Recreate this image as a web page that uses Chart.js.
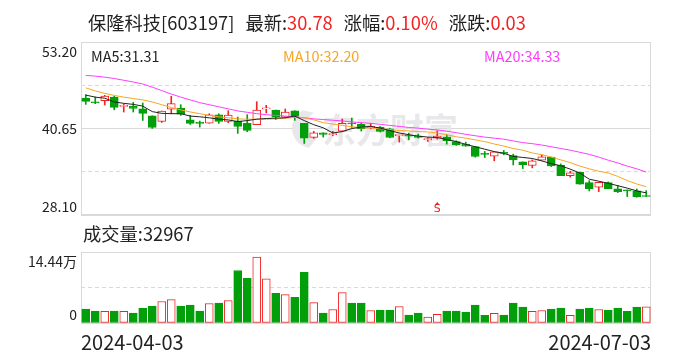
<!DOCTYPE html>
<html>
<head>
<meta charset="utf-8">
<script src="https://cdn.jsdelivr.net/npm/chart.js@4.4.1/dist/chart.umd.min.js"></script>
<style>
  body { margin: 0; background: #fff; width: 688px; height: 360px; overflow: hidden; position: relative;
         font-family: "Noto Sans CJK SC", "Noto Sans", sans-serif; color: #222; }
  canvas { position: absolute; left: 0; }
  #priceChart { top: 0; }
  #volChart { top: 230px; }
  .txt { position: absolute; white-space: pre; line-height: 20px; }
  .red { color: #f22323; }
  #title { left: 88px; top: 12px; font-size: 18.3px; }
  #title .gap { margin-left: 11px; }
  .ma { top: 46px; font-size: 14.4px; }
  #volTitle { left: 83px; top: 223px; font-size: 18.3px; }
</style>
</head>
<body>
<canvas id="priceChart" width="688" height="230"></canvas>
<canvas id="volChart" width="688" height="130"></canvas>
<div id="title" class="txt"></div>
<div id="ma5" class="txt ma" style="left:91px;color:#222"></div>
<div id="ma10" class="txt ma" style="left:283px;color:#f6a623"></div>
<div id="ma20" class="txt ma" style="left:484px;color:#ff3cff"></div>
<div id="volTitle" class="txt"></div>
<script>
const stockName = '保隆科技';
const stockCode = '603197';

// trading days 2024-04-03 .. 2024-07-03
const dates = [
  '2024-04-03','2024-04-08','2024-04-09','2024-04-10','2024-04-11','2024-04-12',
  '2024-04-15','2024-04-16','2024-04-17','2024-04-18','2024-04-19',
  '2024-04-22','2024-04-23','2024-04-24','2024-04-25','2024-04-26','2024-04-29','2024-04-30',
  '2024-05-06','2024-05-07','2024-05-08','2024-05-09','2024-05-10',
  '2024-05-13','2024-05-14','2024-05-15','2024-05-16','2024-05-17',
  '2024-05-20','2024-05-21','2024-05-22','2024-05-23','2024-05-24',
  '2024-05-27','2024-05-28','2024-05-29','2024-05-30','2024-05-31',
  '2024-06-03','2024-06-04','2024-06-05','2024-06-06','2024-06-07',
  '2024-06-11','2024-06-12','2024-06-13','2024-06-14',
  '2024-06-17','2024-06-18','2024-06-19','2024-06-20','2024-06-21',
  '2024-06-24','2024-06-25','2024-06-26','2024-06-27','2024-06-28',
  '2024-07-01','2024-07-02','2024-07-03'
];

const opens = [45.08,44.42,44.68,45.22,43.86,43.86,43.52,42.50,41.68,43.47,
               43.62,41.92,41.45,41.44,42.65,41.68,41.73,41.39,41.20,43.50,
               43.33,42.31,43.23,41.39,39.36,40.03,39.76,40.28,41.39,41.25,
               40.70,40.86,40.60,39.62,39.60,39.55,39.00,39.25,39.45,38.77,
               38.38,38.04,36.95,36.64,37.10,36.73,35.81,35.28,36.05,36.49,
               35.32,33.82,34.30,32.80,32.12,32.80,31.88,31.65,31.59,30.78];
const highs = [45.56,45.22,45.46,45.32,44.20,44.44,44.35,42.50,43.18,45.32,
               44.10,42.55,41.73,42.79,42.79,43.23,42.31,42.65,44.54,44.01,
               43.33,43.48,43.23,41.39,40.23,40.03,40.23,42.02,42.17,41.40,
               41.40,40.95,40.70,39.66,39.98,39.84,39.35,40.32,39.74,38.87,
               38.67,38.04,37.32,37.27,37.46,36.93,35.81,36.10,36.83,36.49,
               35.52,34.45,34.30,33.09,32.85,32.90,32.41,31.73,31.88,31.64];
const lows  = [44.15,44.25,44.05,43.37,43.04,43.04,41.82,40.66,41.53,42.79,
               42.55,41.24,40.85,41.40,41.39,41.49,39.94,40.18,41.20,42.90,
               41.93,42.20,41.83,38.48,39.21,39.40,39.60,40.18,40.81,40.28,
               40.60,40.13,39.30,38.67,39.01,39.25,38.77,39.10,38.38,38.19,
               38.09,36.49,36.44,35.96,36.83,35.37,34.84,34.94,36.05,35.13,
               33.82,33.58,32.56,31.59,31.49,31.93,31.35,30.77,30.67,30.78];
const closes = [44.59,44.38,45.36,43.71,43.90,43.57,42.84,40.80,43.18,44.25,
                42.74,41.39,41.40,42.65,41.68,42.60,40.96,40.37,43.33,43.55,
                42.31,43.04,42.41,39.26,40.03,39.79,39.80,41.39,41.30,40.62,
                41.00,40.22,39.35,39.65,39.52,39.35,39.20,39.55,38.87,38.28,
                38.09,36.59,36.90,37.27,37.05,36.10,35.42,35.95,36.54,35.23,
                33.82,34.21,32.56,31.93,32.85,31.93,31.49,31.60,30.75,30.78];

const ma5 = [45.50,45.20,45.05,44.50,44.30,44.15,43.90,43.10,42.85,42.80,
             42.80,42.45,42.35,42.20,42.00,41.90,41.65,41.80,42.00,42.10,
             42.15,42.20,42.45,41.80,41.20,40.75,40.00,40.20,40.65,40.85,
             40.95,40.70,40.35,40.00,39.75,39.55,39.40,39.35,39.05,38.75,
             38.35,38.00,37.65,37.30,37.05,36.60,36.45,36.30,35.95,35.55,
             35.25,34.75,34.20,33.30,33.00,32.70,32.35,32.00,31.60,31.31];
const ma10 = [46.55,46.10,45.75,45.45,45.20,45.00,44.80,44.50,44.10,43.70,
              43.35,43.05,42.80,42.55,42.35,42.20,42.05,42.00,42.00,42.00,
              42.05,42.15,42.25,42.20,41.90,41.50,41.30,41.10,40.90,40.75,
              40.75,40.60,40.50,40.35,40.30,40.20,40.15,40.00,39.75,39.45,
              39.25,39.00,38.75,38.40,38.10,37.75,37.50,37.10,36.85,36.50,
              36.10,35.70,35.20,34.80,34.45,34.20,33.70,33.10,32.60,32.20];
const ma20 = [48.35,48.25,48.10,47.90,47.65,47.40,47.10,46.65,46.15,45.65,
              45.20,44.80,44.40,44.10,43.80,43.50,43.20,43.00,42.80,42.65,
              42.55,42.45,42.35,42.20,42.05,41.95,41.85,41.75,41.60,41.50,
              41.40,41.25,41.10,40.95,40.80,40.70,40.55,40.45,40.25,40.05,
              39.80,39.60,39.40,39.25,39.10,38.85,38.60,38.45,38.25,38.00,
              37.75,37.50,37.20,36.90,36.50,36.05,35.65,35.20,34.80,34.33];

// 成交量, 单位: 万
const volumes = [2.82,2.42,2.35,2.42,2.35,2.01,3.02,3.43,4.37,4.77,
                 3.43,3.63,2.42,3.96,4.03,4.57,10.68,9.07,13.43,9.00,
                 6.04,5.78,5.24,10.28,4.16,2.01,2.75,6.18,4.03,4.03,
                 2.55,2.62,2.62,3.36,1.61,2.01,1.21,1.75,2.42,2.42,
                 2.22,3.63,1.54,1.95,1.61,4.03,3.22,2.35,2.55,2.82,
                 3.02,1.54,2.82,3.02,2.75,2.62,3.02,2.35,3.22,3.2967];

const priceGrid = [28.10, 34.375, 40.65, 46.925, 53.20];
const priceTickLabels = ['53.20', '40.65', '28.10'];
const volMax = 14.44;
const volTickLabels = ['14.44万', '0'];
const signalIndex = 37; // S 标记

const RED = '#f22323';
const GREEN = '#029f0a';
const GRID = '#d9d9d9';

const n = closes.length;
const isUp = i => closes[i] > opens[i];
const volUp = i => closes[i] > opens[i] || (closes[i] === opens[i] && i > 0 && closes[i] > closes[i - 1]);

// header texts
const last = closes[n - 1];
const chg = last - closes[n - 2];
document.getElementById('title').innerHTML =
  `${stockName}[${stockCode}]<span class="gap">最新:</span><span class="red">${last.toFixed(2)}</span>` +
  `<span class="gap">涨幅:</span><span class="red">${(chg / closes[n - 2] * 100).toFixed(2)}%</span>` +
  `<span class="gap">涨跌:</span><span class="red">${chg.toFixed(2)}</span>`;
document.getElementById('ma5').textContent = 'MA5:' + ma5[n - 1].toFixed(2);
document.getElementById('ma10').textContent = 'MA10:' + ma10[n - 1].toFixed(2);
document.getElementById('ma20').textContent = 'MA20:' + ma20[n - 1].toFixed(2);
document.getElementById('volTitle').textContent = '成交量:' + Math.round(volumes[n - 1] * 10000);

// frame round the plot area
const framePlugin = {
  id: 'frame',
  beforeDatasetsDraw(chart) {
    const { ctx, chartArea: a } = chart;
    ctx.save();
    ctx.strokeStyle = GRID;
    ctx.lineWidth = 1;
    ctx.strokeRect(Math.round(a.left) + 0.5, Math.round(a.top) + 0.5,
                   Math.round(a.right - a.left) - 1, Math.round(a.bottom - a.top) - 1);
    ctx.restore();
  }
};

// y labels: top one hangs below the top line, bottom one sits above the bottom line
const edgeLabels = {
  id: 'edgeLabels',
  afterDraw(chart, args, opts) {
    const { ctx, chartArea, scales: { y } } = chart;
    ctx.save();
    ctx.font = '14px "Noto Sans CJK SC", "Noto Sans", sans-serif';
    ctx.fillStyle = '#222';
    ctx.textAlign = 'right';
    opts.values.forEach((v, i) => {
      const py = y.getPixelForValue(v);
      let dy = 0;
      ctx.textBaseline = 'middle';
      if (v === y.max) { dy = 10; }
      else if (v === y.min) { dy = -8; }
      ctx.fillText(opts.labels[i], chartArea.left - 4, py + dy);
    });
    ctx.restore();
  }
};

const watermark = {
  id: 'watermark',
  beforeDatasetsDraw(chart) {
    const { ctx } = chart;
    ctx.save();
    ctx.fillStyle = '#e8e8ea';
    ctx.font = 'bold 34px "Noto Sans CJK SC", sans-serif';
    ctx.textBaseline = 'middle';
    ctx.fillText('东方财富', 322, 130);
    // swoosh of the logo
    ctx.beginPath();
    ctx.arc(312, 128, 20, Math.PI * 0.55, Math.PI * 1.35);
    ctx.arc(322, 124, 14, Math.PI * 1.3, Math.PI * 0.6, true);
    ctx.closePath();
    ctx.fill();
    ctx.restore();
  }
};

const signalMark = {
  id: 'signalMark',
  afterDatasetsDraw(chart) {
    const { ctx, chartArea, scales: { x } } = chart;
    const px = x.getPixelForValue(signalIndex);
    const by = chartArea.bottom;
    ctx.save();
    ctx.fillStyle = RED;
    ctx.beginPath();
    ctx.moveTo(px, by - 13);
    ctx.lineTo(px - 2.5, by - 10);
    ctx.lineTo(px + 2.5, by - 10);
    ctx.closePath();
    ctx.fill();
    ctx.font = '11px "DejaVu Sans", sans-serif';
    ctx.textAlign = 'center';
    ctx.textBaseline = 'bottom';
    ctx.fillText('S', px, by);
    ctx.restore();
  }
};

const dateLabels = {
  id: 'dateLabels',
  afterDraw(chart) {
    const { ctx, chartArea } = chart;
    ctx.save();
    ctx.font = '20px "Noto Sans CJK SC", "Noto Sans", sans-serif';
    ctx.fillStyle = '#222';
    ctx.textBaseline = 'middle';
    ctx.textAlign = 'left';
    ctx.fillText(dates[0], chartArea.left, chartArea.bottom + 19);
    ctx.textAlign = 'right';
    ctx.fillText(dates[n - 1], chartArea.right, chartArea.bottom + 19);
    ctx.restore();
  }
};

const maLine = (data, color) => ({
  type: 'line', data, borderColor: color, borderWidth: 1,
  pointRadius: 0, tension: 0, order: 0
});

new Chart(document.getElementById('priceChart'), {
  data: {
    labels: dates,
    datasets: [
      maLine(ma5, '#222'),
      maLine(ma10, '#f6a623'),
      maLine(ma20, '#ff3cff'),
      {
        type: 'bar',
        data: opens.map((o, i) => [o, closes[i]]),
        backgroundColor: opens.map((o, i) => isUp(i) ? '#fff' : GREEN),
        borderColor: opens.map((o, i) => isUp(i) ? RED : GREEN),
        borderWidth: 1,
        borderSkipped: false,
        minBarLength: 1,
        barThickness: 8,
        grouped: false,
        order: 1
      },
      {
        type: 'bar',
        data: lows.map((l, i) => [l, highs[i]]),
        backgroundColor: lows.map((l, i) => isUp(i) ? RED : GREEN),
        barThickness: 1,
        grouped: false,
        order: 2
      }
    ]
  },
  options: {
    responsive: false,
    animation: false,
    layout: { padding: { left: 81, right: 37, top: 42, bottom: 15 } },
    plugins: {
      legend: { display: false },
      tooltip: { enabled: false },
      edgeLabels: { values: [53.20, 40.65, 28.10], labels: priceTickLabels }
    },
    scales: {
      x: { display: false, offset: true },
      y: {
        min: 28.10, max: 53.20,
        afterBuildTicks: s => { s.ticks = priceGrid.map(v => ({ value: v })); },
        ticks: { display: false },
        grid: {
          drawTicks: false,
          color: GRID,
          lineWidth: 1
        },
        border: {
          display: false,
          dash: ctx => (ctx.tick && (ctx.tick.value === 34.375 || ctx.tick.value === 46.925)) ? [4, 3] : []
        }
      }
    }
  },
  plugins: [framePlugin, edgeLabels, watermark, signalMark]
});

new Chart(document.getElementById('volChart'), {
  type: 'bar',
  data: {
    labels: dates,
    datasets: [{
      data: volumes,
      backgroundColor: volumes.map((v, i) => volUp(i) ? '#fff' : GREEN),
      borderColor: volumes.map((v, i) => volUp(i) ? RED : GREEN),
      borderWidth: 1,
      borderSkipped: false,
      barThickness: 8
    }]
  },
  options: {
    responsive: false,
    animation: false,
    layout: { padding: { left: 81, right: 37, top: 22, bottom: 37 } },
    plugins: {
      legend: { display: false },
      tooltip: { enabled: false },
      edgeLabels: { values: [volMax, 0], labels: volTickLabels }
    },
    scales: {
      x: { display: false, offset: true },
      y: {
        min: 0, max: volMax,
        afterBuildTicks: s => { s.ticks = [0, volMax / 2, volMax].map(v => ({ value: v })); },
        ticks: { display: false },
        grid: { drawTicks: false, color: GRID, lineWidth: 1 },
        border: {
          display: false,
          dash: ctx => (ctx.tick && ctx.tick.value === volMax / 2) ? [4, 3] : []
        }
      }
    }
  },
  plugins: [framePlugin, edgeLabels, dateLabels]
});
</script>
</body>
</html>
